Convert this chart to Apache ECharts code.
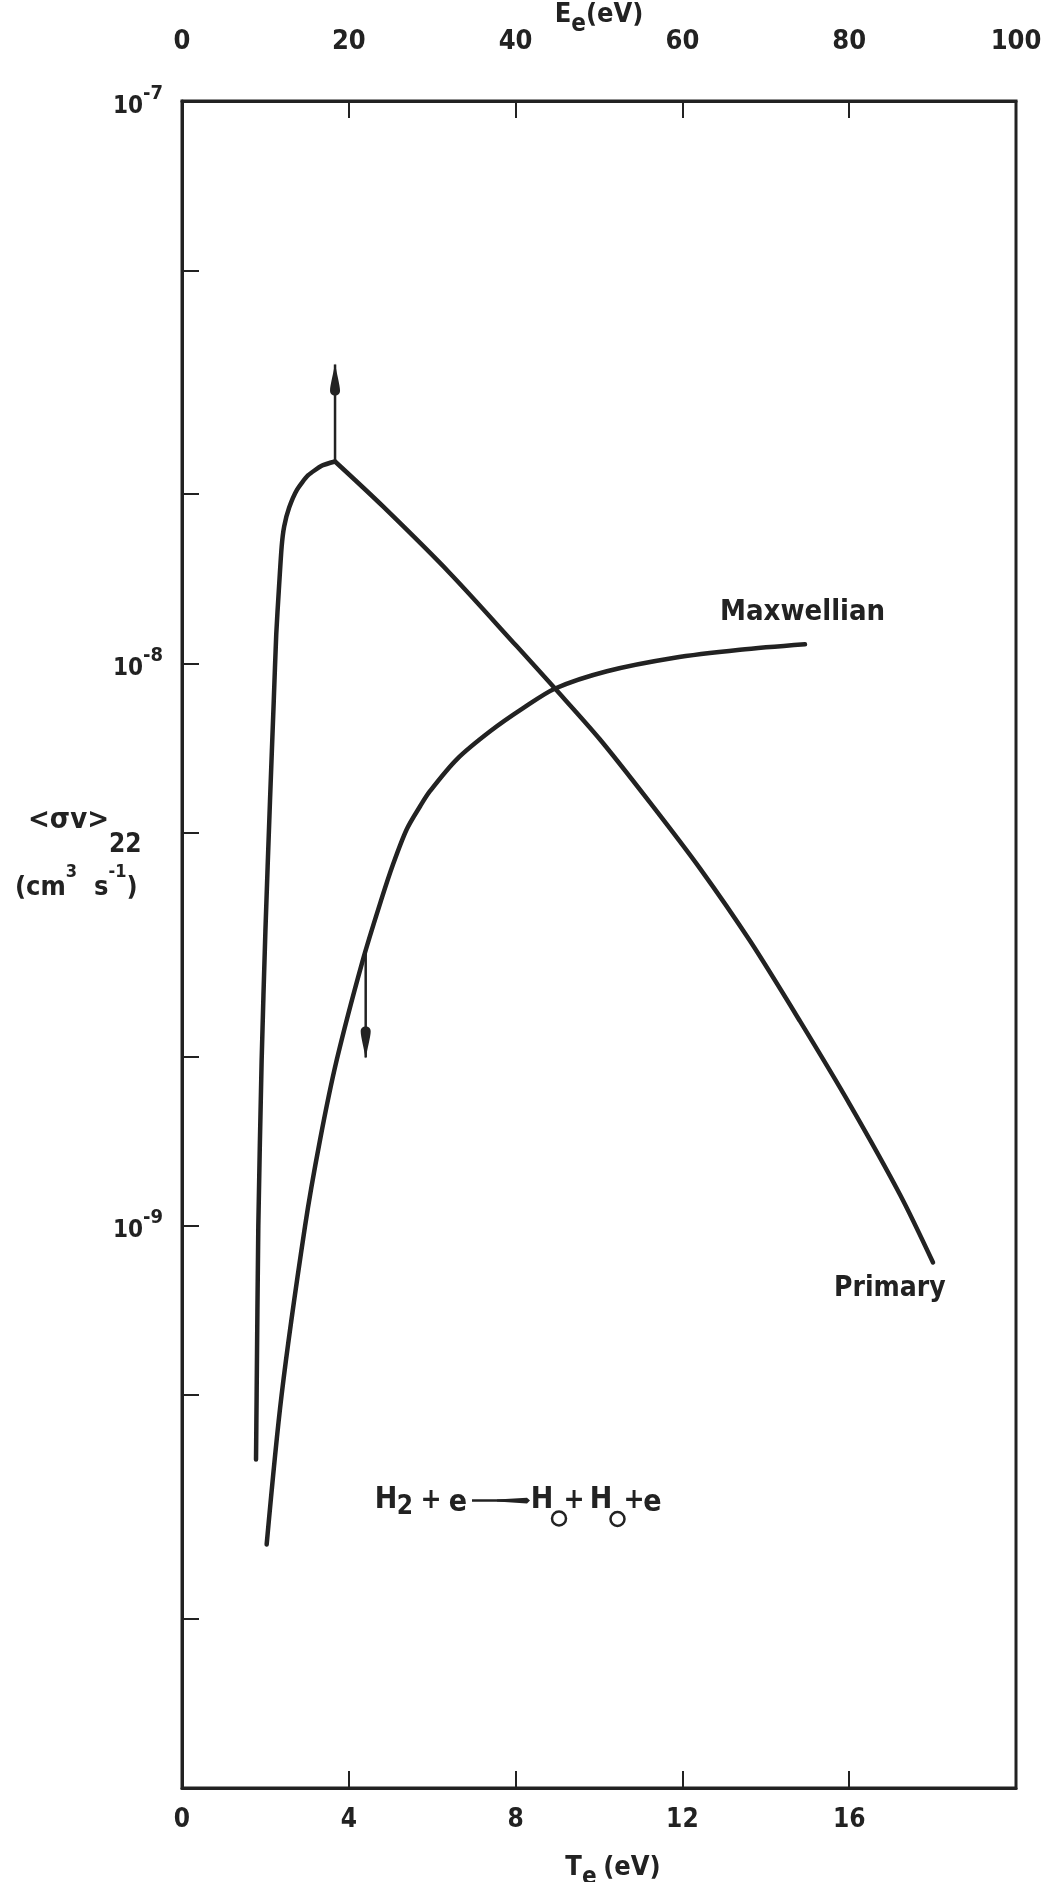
<!DOCTYPE html>
<html>
<head>
<meta charset="utf-8">
<script src="https://cdn.jsdelivr.net/npm/echarts@6/dist/echarts.min.js"></script>
<style>
  html, body { margin: 0; padding: 0; background: #fff; }
  #chart { width: 1052px; height: 1882px; }
</style>
</head>
<body>
<div id="chart"></div>
<script>
// <σv>22 for H2 + e -> H + H + e, versus electron temperature / energy (eV)
// Primary electrons: rising branch up to the maximum, then the falling branch
const primaryRise = [
  [1.775, 3.84e-10], [1.79, 5.01e-10], [1.83, 9.97e-10], [1.91, 1.97e-9], [2.00, 3.34e-9],
  [2.11, 5.69e-9], [2.20, 8.56e-9], [2.26, 1.126e-8], [2.32, 1.342e-8], [2.39, 1.613e-8],
  [2.45, 1.751e-8], [2.57, 1.892e-8], [2.76, 2.037e-8], [3.02, 2.158e-8], [3.36, 2.247e-8],
  [3.67, 2.285e-8]
];
const primaryFall = [
  [3.67, 2.285e-8], [4.82, 1.901e-8], [6.43, 1.445e-8], [8.03, 1.072e-8], [8.94, 9.03e-9],
  [10.02, 7.33e-9], [11.22, 5.66e-9], [12.42, 4.32e-9], [13.62, 3.21e-9], [14.82, 2.31e-9],
  [16.02, 1.64e-9], [17.22, 1.135e-9], [18.01, 8.6e-10]
];
// Maxwellian average
const maxwellian = [
  [2.03, 2.71e-10], [2.39, 5.01e-10], [2.95, 9.97e-10], [3.31, 1.42e-9], [3.71, 1.97e-9],
  [4.33, 2.955e-9], [4.77, 3.78e-9], [5.07, 4.41e-9], [5.39, 5.07e-9], [5.71, 5.57e-9],
  [5.95, 5.93e-9], [6.59, 6.75e-9], [7.39, 7.57e-9], [8.19, 8.33e-9], [8.95, 9.02e-9],
  [10.19, 9.68e-9], [11.78, 1.022e-8], [13.38, 1.057e-8], [14.94, 1.081e-8]
];
// Arrows: [start, tip]
const primaryArrow = [[3.67, 2.285e-8], [3.67, 3.40e-8]];
const maxwellArrow = [[4.405, 3.08e-9], [4.405, 1.99e-9]];

// Axes
const teRange = [0, 20], teStep = 4;          // bottom: T_e (eV)
const eeRange = [0, 100], eeStep = 20;        // top: E_e (eV)
const yRange = [1e-10, 1e-7];                 // <σv> (cm3 s-1)
const yMinorTicks = [2e-10, 5e-10, 2e-9, 5e-9, 2e-8, 5e-8];

const INK = '#222';
const FONT = "'DejaVu Sans Condensed', 'Liberation Sans Narrow', sans-serif";
const txt = (size, extra) => Object.assign({ fontFamily: FONT, fontWeight: 'bold', fontSize: size, color: INK }, extra || {});

const ARROW_HEAD = 'path://M5,0 C6.5,9 10,22 10,27 C10,30.5 8,32 5,32 C2,32 0,30.5 0,27 C0,22 3.5,9 5,0 Z';
function arrowSeries(pts, up) {
  return {
    type: 'line', xAxisIndex: 0, yAxisIndex: 0, silent: true,
    symbol: 'none', showSymbol: true,
    lineStyle: { color: INK, width: 2.5 },
    itemStyle: { color: INK },
    data: [
      pts[0],
      { value: pts[1], symbol: ARROW_HEAD, symbolSize: [10, 32],
        symbolRotate: up ? 0 : 180, symbolOffset: [0, up ? 15 : -15] }
    ]
  };
}
const curve = (data, smooth) => ({
  type: 'line', xAxisIndex: 0, yAxisIndex: 0, data, smooth,
  symbol: 'none', silent: true,
  lineStyle: { color: INK, width: 4.5, cap: 'round', join: 'round' }
});

// subscript rich styles for the axis names
const nameRich = {
  m: txt(27, { lineHeight: 36, verticalAlign: 'top' }),
  s: txt(24, { verticalAlign: 'bottom' })
};

function glyph(text, cx, cy, size) {
  return { type: 'text', x: cx, y: cy,
    style: { text, fill: INK, font: `bold ${size}px ${FONT}`,
      align: 'center', verticalAlign: 'middle', textAlign: 'center', textVerticalAlign: 'middle' } };
}
function ring(cx, cy) {
  return { type: 'circle', shape: { cx, cy, r: 7 }, style: { fill: 'none', stroke: INK, lineWidth: 2.5 } };
}

const option = {
  backgroundColor: '#fff',
  animation: false,
  grid: { left: 182, right: 36, top: 101, bottom: 94, show: true,
    containLabel: false, outerBoundsMode: 'none',
    borderColor: INK, borderWidth: 3, backgroundColor: 'transparent' },
  xAxis: [
    {
      type: 'value', position: 'bottom', min: teRange[0], max: teRange[1], interval: teStep,
      name: '{m|T}{s|e}  {m|(eV)}', nameLocation: 'middle', nameGap: 66, nameMoveOverlap: false,
      nameTextStyle: { rich: nameRich, padding: [0, 0, 0, 28] },
      axisLine: { lineStyle: { color: INK, width: 3 } },
      axisTick: { inside: true, length: 17, lineStyle: { color: INK, width: 2 } },
      axisLabel: txt(26, { margin: 19, showMaxLabel: false }),
      splitLine: { show: false }
    },
    {
      type: 'value', position: 'top', min: eeRange[0], max: eeRange[1], interval: eeStep,
      name: '{m|E}{s|e}{m|(eV)}', nameLocation: 'middle', nameGap: 64, nameMoveOverlap: false,
      nameTextStyle: { rich: nameRich },
      axisLine: { lineStyle: { color: INK, width: 3 } },
      axisTick: { inside: true, length: 17, lineStyle: { color: INK, width: 2 } },
      axisLabel: txt(27, { margin: 46 }),
      splitLine: { show: false }
    }
  ],
  yAxis: [
    {
      type: 'log', logBase: 10, min: yRange[0], max: yRange[1],
      axisLine: { lineStyle: { color: INK, width: 3 } },
      axisTick: { inside: true, length: 17, lineStyle: { color: INK, width: 2 } },
      axisLabel: {
        margin: 19,
        formatter: (v) => {
          const e = Math.round(Math.log10(v));
          return v <= yRange[0] * 1.0001 ? '' : '{b|10}{s|' + e + '}';
        },
        rich: {
          b: txt(24, { lineHeight: 35, verticalAlign: 'bottom' }),
          s: txt(20, { verticalAlign: 'top' })
        }
      },
      splitLine: { show: false },
      minorTick: { show: false }
    },
    {
      // 2 and 5 marks inside each decade
      type: 'value', position: 'left', min: Math.log10(yRange[0]), max: Math.log10(yRange[1]),
      axisLine: { show: false },
      axisLabel: { show: false },
      splitLine: { show: false },
      axisTick: { show: true, inside: true, length: 17, lineStyle: { color: INK, width: 2 },
        customValues: yMinorTicks.map((v) => Math.log10(v)) }
    }
  ],
  series: [
    curve(primaryRise, 0.2),
    curve(primaryFall, 0.3),
    curve(maxwellian, 0.3),
    arrowSeries(primaryArrow, true),
    arrowSeries(maxwellArrow, false)
  ],
  graphic: [
    // y-axis title
    { type: 'text', x: 28, y: 832,
      style: { text: '{m|<σv>}{d|22}', verticalAlign: 'middle', textVerticalAlign: 'middle',
        rich: { m: { font: `bold 29px ${FONT}`, fill: INK, lineHeight: 52, verticalAlign: 'top' },
                d: { font: `bold 26px ${FONT}`, fill: INK, verticalAlign: 'bottom' } } } },
    { type: 'text', x: 15, y: 882,
      style: { text: '{m|(cm}{p|3}{m|  s}{p|-1}{m|)}', verticalAlign: 'middle', textVerticalAlign: 'middle',
        rich: { m: { font: `bold 27px ${FONT}`, fill: INK, lineHeight: 38, verticalAlign: 'bottom' },
                p: { font: `bold 18px ${FONT}`, fill: INK, verticalAlign: 'top' } } } },
    // curve names
    { type: 'text', x: 720, y: 612,
      style: { text: 'Maxwellian', fill: INK, font: `bold 29px ${FONT}`,
        verticalAlign: 'middle', textVerticalAlign: 'middle' } },
    { type: 'text', x: 834, y: 1289,
      style: { text: 'Primary', fill: INK, font: `bold 28px ${FONT}`,
        verticalAlign: 'middle', textVerticalAlign: 'middle' } },
    // reaction: H2 + e -> H + H + e
    { type: 'group', children: [
      glyph('H', 386, 1500, 30),
      glyph('2', 405, 1507, 26),
      glyph('+', 431, 1501, 28),
      glyph('e', 458, 1503, 30),
      { type: 'line', shape: { x1: 472, y1: 1500.5, x2: 505, y2: 1500.5 }, style: { stroke: INK, lineWidth: 2.5 } },
      { type: 'polygon', shape: { points: [[497, 1499.5], [527, 1497.8], [530, 1500.5], [527, 1503.4], [497, 1501.6]] },
        style: { fill: INK } },
      glyph('H', 542, 1500, 30),
      ring(559, 1518.5),
      glyph('+', 574, 1501, 28),
      glyph('H', 601, 1500, 30),
      ring(617.5, 1519),
      glyph('+', 634, 1501, 28),
      glyph('e', 652.5, 1503, 30)
    ] }
  ]
};

const chart = echarts.init(document.getElementById('chart'), null, { renderer: 'canvas' });
chart.setOption(option);
</script>
</body>
</html>
